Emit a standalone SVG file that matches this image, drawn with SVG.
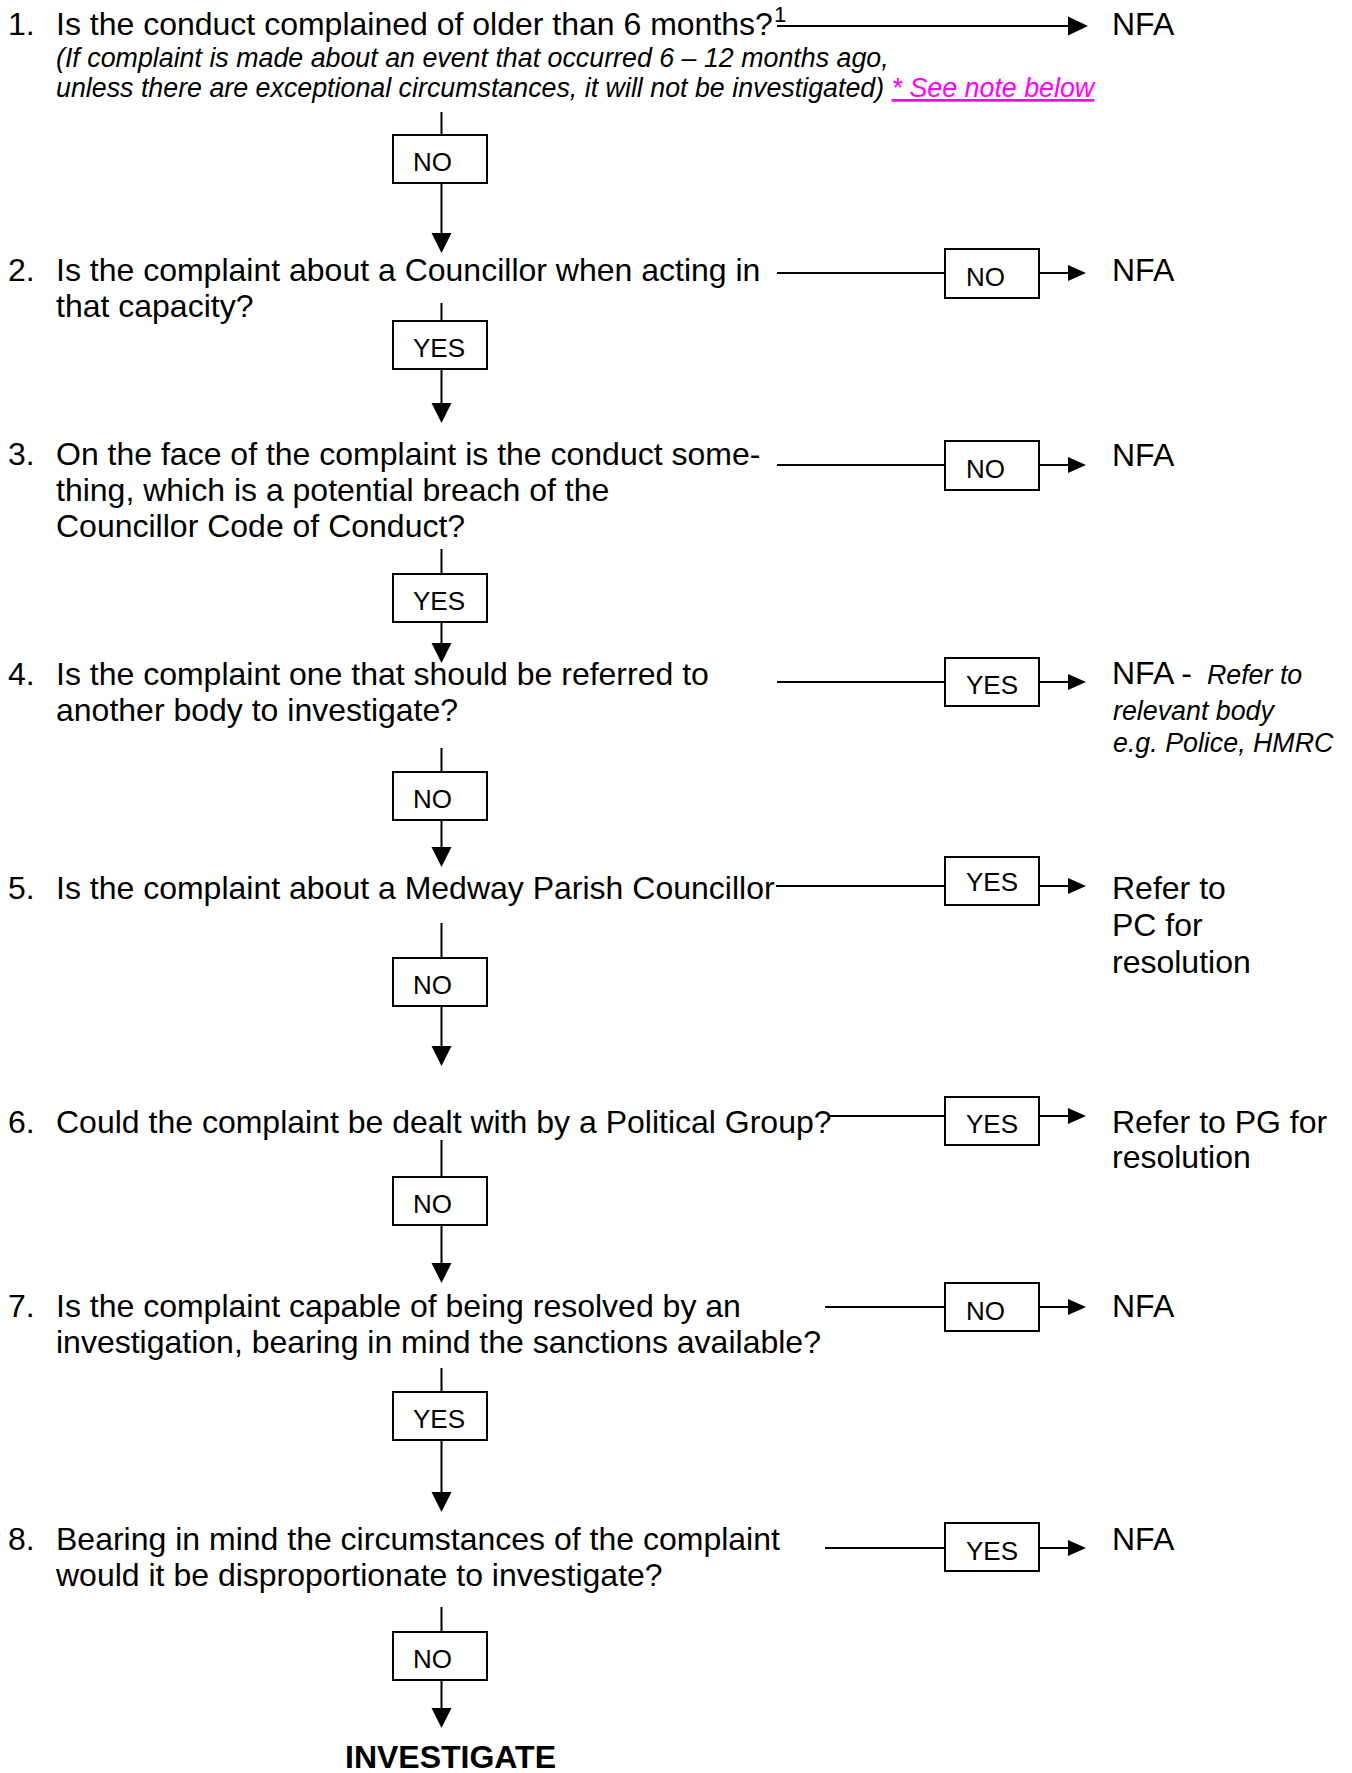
<svg xmlns="http://www.w3.org/2000/svg" width="1352" height="1773" viewBox="0 0 1352 1773">
<style>
text{font-family:"Liberation Sans",Arial,sans-serif;fill:#000}
.q{font-size:32px}
.it{font-size:26.8px;font-style:italic}
.lbl{font-size:26px}
.link{fill:#FF00FF;text-decoration:underline}
.box{fill:#fff;stroke:#000;stroke-width:2}
.ln{stroke:#000;stroke-width:2;fill:none}
.hd{fill:#000}
.big{font-size:32px;font-weight:bold}
</style>
<rect width="1352" height="1773" fill="#fff"/>
<g id="connectors">
<path class="ln" d="M777 26H1070"/><polygon class="hd" points="1068,16.5 1088,26 1068,35.5"/>
<path class="ln" d="M441.5 112V135M441.5 183V235"/><polygon class="hd" points="431.5,233 451.5,233 441.5,253"/>
<path class="ln" d="M777 273H945M1039 273H1070"/><polygon class="hd" points="1068,265 1086,273 1068,281"/>
<path class="ln" d="M441.5 303V321M441.5 369V405"/><polygon class="hd" points="431.5,403 451.5,403 441.5,423"/>
<path class="ln" d="M777 465H945M1039 465H1070"/><polygon class="hd" points="1068,457 1086,465 1068,473"/>
<path class="ln" d="M441.5 549V574M441.5 622V645"/><polygon class="hd" points="431.5,643 451.5,643 441.5,663"/>
<path class="ln" d="M777 682H945M1039 682H1070"/><polygon class="hd" points="1068,674 1086,682 1068,690"/>
<path class="ln" d="M441.5 748V772M441.5 820V849"/><polygon class="hd" points="431.5,847 451.5,847 441.5,867"/>
<path class="ln" d="M776 886H945M1039 886H1070"/><polygon class="hd" points="1068,878 1086,886 1068,894"/>
<path class="ln" d="M441.5 923V958M441.5 1006V1048"/><polygon class="hd" points="431.5,1046 451.5,1046 441.5,1066"/>
<path class="ln" d="M828 1116H945M1039 1116H1070"/><polygon class="hd" points="1068,1108 1086,1116 1068,1124"/>
<path class="ln" d="M441.5 1140V1177M441.5 1225V1265"/><polygon class="hd" points="431.5,1263 451.5,1263 441.5,1283"/>
<path class="ln" d="M825 1307H945M1039 1307H1070"/><polygon class="hd" points="1068,1299 1086,1307 1068,1315"/>
<path class="ln" d="M441.5 1368V1392M441.5 1440V1494"/><polygon class="hd" points="431.5,1492 451.5,1492 441.5,1512"/>
<path class="ln" d="M825 1548H945M1039 1548H1070"/><polygon class="hd" points="1068,1540 1086,1548 1068,1556"/>
<path class="ln" d="M441.5 1607V1632M441.5 1680V1710"/><polygon class="hd" points="431.5,1708 451.5,1708 441.5,1728"/>
</g>
<g id="q1"><text class="q" x="8" y="35">1.</text><text class="q" x="56" y="35">Is the conduct complained of older than 6 months?</text><text x="774" y="22" font-size="22">1</text>
<text class="it" x="56" y="67">(If complaint is made about an event that occurred 6 – 12 months ago,</text>
<text class="it" x="56" y="97">unless there are exceptional circumstances, it will not be investigated) <tspan class="link">* See note below</tspan></text></g>
<g id="o1"><text class="q" x="1112" y="35">NFA</text></g>
<g id="v1"><rect class="box" x="393" y="135" width="94" height="48"/><text class="lbl" x="413" y="171">NO</text></g>
<g id="q2"><text class="q" x="8" y="281">2.</text><text class="q" x="56" y="281">Is the complaint about a Councillor when acting in</text><text class="q" x="56" y="317">that capacity?</text></g>
<g id="r2"><rect class="box" x="945" y="249" width="94" height="49"/><text class="lbl" x="966" y="286">NO</text></g>
<g id="o2"><text class="q" x="1112" y="281">NFA</text></g>
<g id="v2"><rect class="box" x="393" y="321" width="94" height="48"/><text class="lbl" x="413" y="357">YES</text></g>
<g id="q3"><text class="q" x="8" y="465">3.</text><text class="q" x="56" y="465">On the face of the complaint is the conduct some-</text><text class="q" x="56" y="501">thing, which is a potential breach of the</text><text class="q" x="56" y="537">Councillor Code of Conduct?</text></g>
<g id="r3"><rect class="box" x="945" y="441" width="94" height="49"/><text class="lbl" x="966" y="478">NO</text></g>
<g id="o3"><text class="q" x="1112" y="466">NFA</text></g>
<g id="v3"><rect class="box" x="393" y="574" width="94" height="48"/><text class="lbl" x="413" y="610">YES</text></g>
<g id="q4"><text class="q" x="8" y="685">4.</text><text class="q" x="56" y="685">Is the complaint one that should be referred to</text><text class="q" x="56" y="721">another body to investigate?</text></g>
<g id="r4"><rect class="box" x="945" y="658" width="94" height="48"/><text class="lbl" x="966" y="694">YES</text></g>
<g id="o4"><text class="q" x="1112" y="684">NFA - <tspan class="it" dx="6">Refer to</tspan></text><text class="it" x="1113" y="720">relevant body</text><text class="it" x="1113" y="752">e.g. Police, HMRC</text></g>
<g id="v4"><rect class="box" x="393" y="772" width="94" height="48"/><text class="lbl" x="413" y="808">NO</text></g>
<g id="q5"><text class="q" x="8" y="899">5.</text><text class="q" x="56" y="899">Is the complaint about a Medway Parish Councillor</text></g>
<g id="r5"><rect class="box" x="945" y="857" width="94" height="48"/><text class="lbl" x="966" y="891">YES</text></g>
<g id="o5"><text class="q" x="1112" y="899">Refer to</text><text class="q" x="1112" y="936">PC for</text><text class="q" x="1112" y="973">resolution</text></g>
<g id="v5"><rect class="box" x="393" y="958" width="94" height="48"/><text class="lbl" x="413" y="994">NO</text></g>
<g id="q6"><text class="q" x="8" y="1133">6.</text><text class="q" x="56" y="1133">Could the complaint be dealt with by a Political Group?</text></g>
<g id="r6"><rect class="box" x="945" y="1097" width="94" height="48"/><text class="lbl" x="966" y="1133">YES</text></g>
<g id="o6"><text class="q" x="1112" y="1133">Refer to PG for</text><text class="q" x="1112" y="1168">resolution</text></g>
<g id="v6"><rect class="box" x="393" y="1177" width="94" height="48"/><text class="lbl" x="413" y="1213">NO</text></g>
<g id="q7"><text class="q" x="8" y="1317">7.</text><text class="q" x="56" y="1317">Is the complaint capable of being resolved by an</text><text class="q" x="56" y="1353">investigation, bearing in mind the sanctions available?</text></g>
<g id="r7"><rect class="box" x="945" y="1283" width="94" height="48"/><text class="lbl" x="966" y="1320">NO</text></g>
<g id="o7"><text class="q" x="1112" y="1317">NFA</text></g>
<g id="v7"><rect class="box" x="393" y="1392" width="94" height="48"/><text class="lbl" x="413" y="1428">YES</text></g>
<g id="q8"><text class="q" x="8" y="1550">8.</text><text class="q" x="56" y="1550">Bearing in mind the circumstances of the complaint</text><text class="q" x="56" y="1586">would it be disproportionate to investigate?</text></g>
<g id="r8"><rect class="box" x="945" y="1523" width="94" height="48"/><text class="lbl" x="966" y="1560">YES</text></g>
<g id="o8"><text class="q" x="1112" y="1550">NFA</text></g>
<g id="v8"><rect class="box" x="393" y="1632" width="94" height="48"/><text class="lbl" x="413" y="1668">NO</text></g>
<g id="investigate"><text class="big" x="345" y="1768">INVESTIGATE</text></g>
</svg>
